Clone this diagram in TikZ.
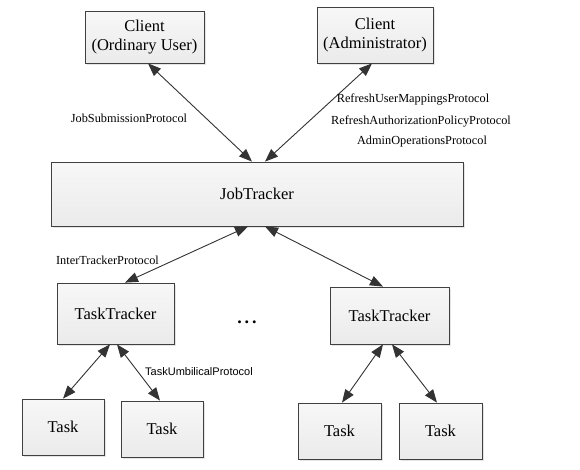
\documentclass[tikz,border=0pt]{standalone}
\usepackage{fontspec}
\setmainfont{Liberation Serif}
\newfontfamily\labelsans{Liberation Sans}
\usetikzlibrary{arrows.meta,shadows}
\begin{document}
\begin{tikzpicture}[x=1pt,y=-1pt,
  box/.style={draw=black!75, line width=0.8pt, top color=gray!6, bottom color=gray!16,
    drop shadow={shadow xshift=2pt,shadow yshift=-2pt,fill=gray!35,opacity=0.6},
    inner sep=0pt, align=center, font=\fontsize{16.5}{19}\selectfont},
  lbl/.style={inner sep=0pt, font=\fontsize{12.3}{14}\selectfont},
  conn/.style={draw=black!80, line width=0.9pt, {Triangle[length=13pt,width=10pt]}-{Triangle[length=13pt,width=10pt]}}]
\useasboundingbox (0,0) rectangle (580,469);
\fill[white] (0,0) rectangle (580,469);
% boxes
\node[box, minimum width=119pt, minimum height=52pt] (c1) at (144.5,37) {Client\\(Ordinary User)};
\node[box, minimum width=116pt, minimum height=56pt] (c2) at (375,35) {Client\\(Administrator)};
\node[box, minimum width=412pt, minimum height=64pt] (jt) at (257,194) {JobTracker};
\node[box, minimum width=117pt, minimum height=61pt] (tt1) at (115.5,313.5) {TaskTracker};
\node[box, minimum width=119pt, minimum height=57pt] (tt2) at (389.5,315.5) {TaskTracker};
\node[box, minimum width=82pt, minimum height=56pt] (t1) at (63,427) {Task};
\node[box, minimum width=82pt, minimum height=56pt] (t2) at (162,429) {Task};
\node[box, minimum width=83pt, minimum height=56pt] (t3) at (339.5,431) {Task};
\node[box, minimum width=83pt, minimum height=56pt] (t4) at (440.5,431) {Task};
% connectors
\draw[conn] ([xshift=3.5pt]c1.south) -- ([xshift=-5pt]jt.north);
\draw[conn] ([xshift=-3pt]c2.south) -- ([xshift=8pt]jt.north);
\draw[conn] ([xshift=-9pt]jt.south) -- ([xshift=9.5pt]tt1.north);
\draw[conn] ([xshift=8pt]jt.south) -- ([xshift=-6.5pt]tt2.north);
\draw[conn] ([xshift=-5.5pt]tt1.south) -- (t1.north);
\draw[conn] ([xshift=1.5pt]tt1.south) -- ([xshift=-2pt]t2.north);
\draw[conn] ([xshift=-6.5pt]tt2.south) -- ([xshift=2.5pt]t3.north);
\draw[conn] ([xshift=2.5pt]tt2.south) -- ([xshift=-3.5pt]t4.north);
% labels
\node[lbl] (l1) at (129,118) {JobSubmissionProtocol};
\node[lbl] (l2) at (413,99) {RefreshUserMappingsProtocol};
\node[lbl] (l3) at (421,121) {RefreshAuthorizationPolicyProtocol};
\node[lbl] (l4) at (422,142) {AdminOperationsProtocol};
\node[lbl] (l5) at (107.5,260) {InterTrackerProtocol};
\node[inner sep=0pt, font=\labelsans\fontsize{11}{13}\selectfont] (l6) at (199,372) {TaskUmbilicalProtocol};
\node[inner sep=0pt, font=\fontsize{18}{20}\selectfont\bfseries] (dots) at (247,322) {.\,.\,.};
\end{tikzpicture}
\end{document}
